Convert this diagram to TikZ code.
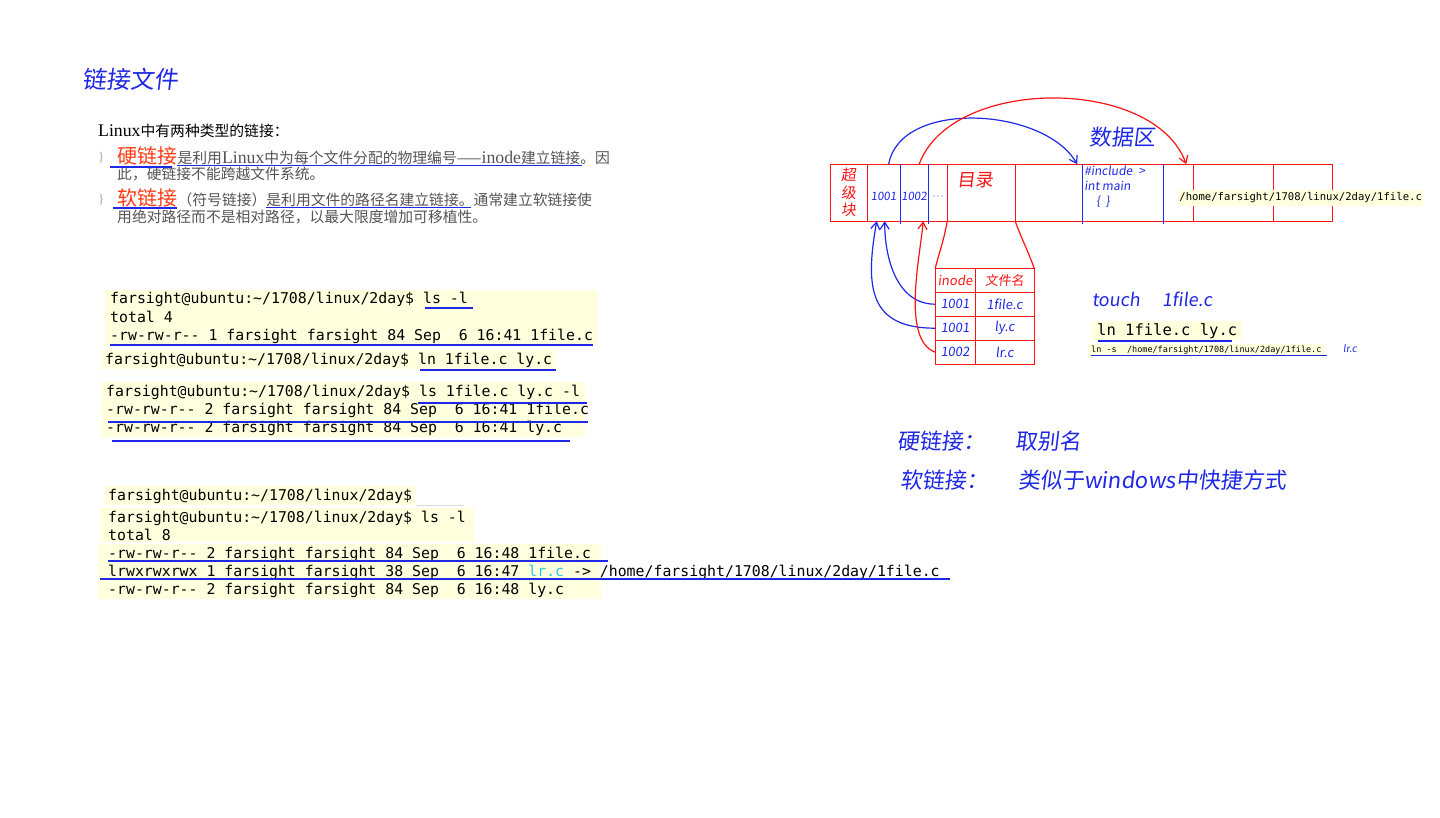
\documentclass[tikz,border=0pt]{standalone}
\usepackage{fontspec}
\setmainfont{Noto Sans CJK SC}
\setmonofont{DejaVu Sans Mono}
\newfontfamily\latfont[Scale=1.2]{Liberation Serif}
\newfontfamily\handfont[FakeSlant=0.12]{Noto Sans CJK SC}
\newcommand\lat[1]{{\latfont #1}}
\usetikzlibrary{matrix,positioning,fit,backgrounds,arrows.meta}
\definecolor{inkblue}{RGB}{30,40,230}
\definecolor{inkred}{RGB}{250,20,20}
\definecolor{keyred}{RGB}{255,60,20}
\definecolor{textgray}{RGB}{85,85,85}
\definecolor{termbg}{RGB}{255,255,221}
\definecolor{lrcyan}{RGB}{40,200,230}
\tikzset{
  termline/.style={font=\ttfamily\fontsize{14.85}{18}\selectfont, inner sep=0pt, anchor=base west},
  termbox/.style={fill=termbg, inner xsep=5pt, inner ysep=2pt},
  bodytext/.style={font=\fontsize{14.8}{18}\selectfont, text=textgray, inner sep=0pt, anchor=base west},
  keyterm/.style={font=\fontsize{20}{22}\selectfont, text=keyred, inner sep=0pt, anchor=base west},
  bulletmark/.style={font=\latfont\fontsize{11}{12}\selectfont, text=black!35, inner sep=0pt, anchor=base west},
  ink/.style={font=\handfont\fontsize{#1}{#1}\selectfont, text=inkblue, inner sep=0pt},
  ink/.default=12,
  redink/.style={ink=#1, text=inkred},
  redink/.default=12,
  uline/.style={draw=inkblue, line width=1.3pt},
  redline/.style={draw=inkred, line width=1.2pt},
  inkarrow/.style={draw=#1, line width=1.2pt, -{Straight Barb[length=7pt,width=9pt]}},
}
\begin{document}
\begin{tikzpicture}[x=1pt,y=1pt]
\useasboundingbox (0,0) rectangle (1440,-818);
\begin{scope}[on background layer]
  \fill[white] (0,0) rectangle (1440,-818);
\end{scope}

\node[ink=24, anchor=base west] (title) at (82,-89) {链接文件};

\node[bodytext, text=black] (intro) at (98,-137) {\lat{Linux}中有两种类型的链接：};
\node[bulletmark] (b1) at (98,-162) {\}};
\node[keyterm] (hard) at (117,-164) {硬链接};
\node[bodytext] (hardtxt) at (hard.base east) {是利用\lat{Linux}中为每个文件分配的物理编号——\lat{inode}建立链接。因};
\node[bodytext] (hardtxt2) at (117,-180) {此，硬链接不能跨越文件系统。};
\node[bulletmark] (b2) at (98,-204) {\}};
\node[keyterm] (soft) at (117,-206) {软链接};
\node[bodytext] (softtxt) at (soft.base east) {（符号链接）是利用文件的路径名建立链接。通常建立软链接使};
\node[bodytext] (softtxt2) at (117,-223) {用绝对路径而不是相对路径，以最大限度增加可移植性。};
\draw[uline] ([xshift=-7pt,yshift=-3pt]hard.base west) -- ([xshift=-5pt,yshift=-3pt]hard.base east);
\draw[uline, line width=0.9pt] ([yshift=-1.5pt]hardtxt.base west) -- (582,-165.5);
\draw[uline] ([xshift=-4pt,yshift=-2pt]soft.base west) -- ([yshift=-2pt]soft.base east);
\draw[uline, line width=0.9pt] (266,-207) -- (471,-207);

% terminal output
\node[termline] (t1a) at (110,-304) {farsight@ubuntu:\textasciitilde/1708/linux/2day\$ ls -l};
\node[termline] (t1b) at (110,-322) {total 4};
\node[termline] (t1c) at (110,-340) {-rw-rw-r-- 1 farsight farsight 84 Sep\ \ 6 16:41 1file.c};
\node[termline] (t2a) at (105,-364) {farsight@ubuntu:\textasciitilde/1708/linux/2day\$ ln 1file.c ly.c};
\node[termline] (t3a) at (106,-396) {farsight@ubuntu:\textasciitilde/1708/linux/2day\$ ls 1file.c ly.c -l};
\node[termline] (t3b) at (106,-414) {-rw-rw-r-- 2 farsight farsight 84 Sep\ \ 6 16:41 1file.c};
\node[termline] (t3c) at (106,-432) {-rw-rw-r-- 2 farsight farsight 84 Sep\ \ 6 16:41 ly.c};
\node[termline] (t4a) at (108,-500) {farsight@ubuntu:\textasciitilde/1708/linux/2day\$};
\node[termline] (t4b) at (108,-522) {farsight@ubuntu:\textasciitilde/1708/linux/2day\$ ls -l};
\node[termline] (t4c) at (108,-540) {total 8};
\node[termline] (t4d) at (108,-558) {-rw-rw-r-- 2 farsight farsight 84 Sep\ \ 6 16:48 1file.c};
\node[termline] (t4e) at (108,-576) {lrwxrwxrwx 1 farsight farsight 38 Sep\ \ 6 16:47 \textcolor{lrcyan}{lr.c} -> /home/farsight/1708/linux/2day/1file.c};
\node[termline] (t4f) at (108,-594) {-rw-rw-r-- 2 farsight farsight 84 Sep\ \ 6 16:48 ly.c};
\begin{scope}[on background layer]
  \node[termbox, fit=(t1a)(t1c)] (box1) {};
  \node[termbox, inner xsep=4pt, fit=(t2a)] (box2) {};
  \node[termbox, fit=(t3a)(t3c)] (box3) {};
  \node[termbox, inner xsep=3pt, fit=(t4a)] (box4a) {};
  \node[termbox, inner xsep=8pt, fit=(t4b)(t4c)] (box4b) {};
  \node[termbox, inner xsep=10pt, fit=(t4d)(t4f)] (box4c) {};
\end{scope}
\draw[draw=blue!15!black!15, line width=1pt] (box4a.south east) -- ++(48,0);
\draw[uline] (425,-308) -- (473,-308);
\draw[uline] ([yshift=-5pt]t1c.base west) -- ([yshift=-5pt]t1c.base east);
\draw[uline] (420,-370) -- (556,-370);
\draw[uline] (418,-403) -- (587,-403);
\draw[uline] (108,-422) -- (588,-422);
\draw[uline] (112,-441) -- (570,-441);
\draw[uline] (108,-561) -- (608,-561);
\draw[uline] (100,-579) -- (950,-579);

% disk layout
\matrix (strip) [matrix of nodes, nodes in empty cells, matrix anchor=north west, inner sep=0pt,
  column sep=-1.2pt,
  nodes={redline, anchor=center, inner sep=0pt, outer sep=0pt, minimum height=57pt},
  column 1/.style={nodes={minimum width=37pt}},
  column 2/.style={nodes={minimum width=33pt}},
  column 3/.style={nodes={minimum width=28pt}},
  column 4/.style={nodes={minimum width=19pt}},
  column 5/.style={nodes={minimum width=68pt}},
  column 6/.style={nodes={minimum width=67pt}},
  column 7/.style={nodes={minimum width=81pt}},
  column 8/.style={nodes={minimum width=30pt}},
  column 9/.style={nodes={minimum width=80pt}},
  column 10/.style={nodes={minimum width=59pt}}] at (829.4,-163.4) {
  & & & & & & & & & \\
};
\foreach \c in {3,4,7,8}
  \draw[draw=inkblue, line width=1.2pt] (strip-1-\c.north west) -- ([yshift=-3pt]strip-1-\c.south west);

\node[redink, font=\handfont\fontsize{15}{17.5}\selectfont, align=center] (sblbl) at (strip-1-1) {超\\级\\块};
\node[ink=11.5] (lbl1001) at ([yshift=-4pt]strip-1-2) {1001};
\node[ink=11.5] (lbl1002) at ([yshift=-4pt]strip-1-3) {1002};
\node[ink=7] (lbldots) at ([yshift=-5pt]strip-1-4) {- - -};
\node[redink=18, anchor=north west] (dirlbl) at ([shift={(10pt,-8pt)}]strip-1-5.north west) {目录};
\node[ink, font=\handfont\fontsize{12}{15}\selectfont, anchor=north west, align=left] (codelbl)
  at ([shift={(2pt,-2pt)}]strip-1-7.north west) {\#include\hspace{6pt}>\\int main\\\hspace*{12pt}\{\ \ \}};
\node[termline, font=\ttfamily\fontsize{10.6}{12}\selectfont, fill=termbg, inner xsep=1pt, inner ysep=3pt, anchor=west]
  (linkpath) at ([shift={(15pt,-5pt)}]strip-1-8.west) {/home/farsight/1708/linux/2day/1file.c};
\node[ink=22] (datalbl) at (1122,-137) {数据区};

\draw[inkarrow=inkblue] ([xshift=5pt]strip-1-2.north) to[out=80, in=120, looseness=0.9] ([xshift=-5pt]strip-1-7.north west);
\draw[inkarrow=inkred] ([xshift=5pt]strip-1-3.north) to[out=70, in=110, looseness=0.9] ([xshift=8pt]strip-1-8.north);

% directory entries
\matrix (tbl) [matrix of nodes, matrix anchor=north west, inner sep=0pt, column sep=-1.2pt, row sep=-1.2pt,
  nodes={redline, anchor=center, inner sep=0pt, outer sep=0pt, minimum height=24pt,
    text=inkblue, font=\handfont\fontsize{13}{13}\selectfont},
  column 1/.style={nodes={minimum width=40pt}},
  column 2/.style={nodes={minimum width=59pt}},
  row 1/.style={nodes={text=inkred}}] at (934.4,-267.4) {
  inode & 文件名 \\
  1001 & 1file.c \\
  1001 & ly.c \\
  1002 & lr.c \\
};
\draw[redline] (strip-1-5.south west) to[out=-100, in=75] (tbl-1-1.north west);
\draw[redline] (strip-1-5.south east) to[out=-70, in=110] (tbl-1-2.north east);
\draw[inkarrow=inkblue] (tbl-2-1.west) to[out=180, in=-90] ([xshift=1pt]strip-1-2.south);
\draw[inkarrow=inkblue] (tbl-3-1.west) to[out=180, in=-100, looseness=1.4] ([xshift=-7pt]strip-1-2.south);
\draw[inkarrow=inkred] (tbl-4-1.west) to[out=160, in=-95, looseness=0.7] ([xshift=-5pt]strip-1-4.south west);

% commands
\node[ink=18, anchor=base west] (touch) at (1092,-307) {touch\hspace{22pt}1file.c};
\node[termline, font=\ttfamily\fontsize{15.5}{18}\selectfont] (lncmd) at (1097,-335) {ln 1file.c ly.c};
\node[termline, font=\ttfamily\fontsize{8.5}{10}\selectfont] (lnscmd) at (1091,-352) {ln -s\ \ /home/farsight/1708/linux/2day/1file.c};
\begin{scope}[on background layer]
  \node[termbox, fit=(lncmd)] (box5) {};
  \node[termbox, inner xsep=3pt, inner ysep=1.5pt, fit=(lnscmd)] (box6) {};
\end{scope}
\draw[uline] (1098,-341) -- (1232,-341);
\draw[uline, line width=1pt] (1091,-355) -- (1327,-355);
\node[ink=10, anchor=base west] (lrlbl) at (1343,-352) {lr.c};

% notes
\node[ink=22, anchor=base west] (hardnote) at (897,-449) {硬链接：\hspace{30pt}取别名};
\node[ink=22, anchor=base west] (softnote) at (900,-488) {软链接：\hspace{30pt}类似于windows中快捷方式};
\end{tikzpicture}
\end{document}
